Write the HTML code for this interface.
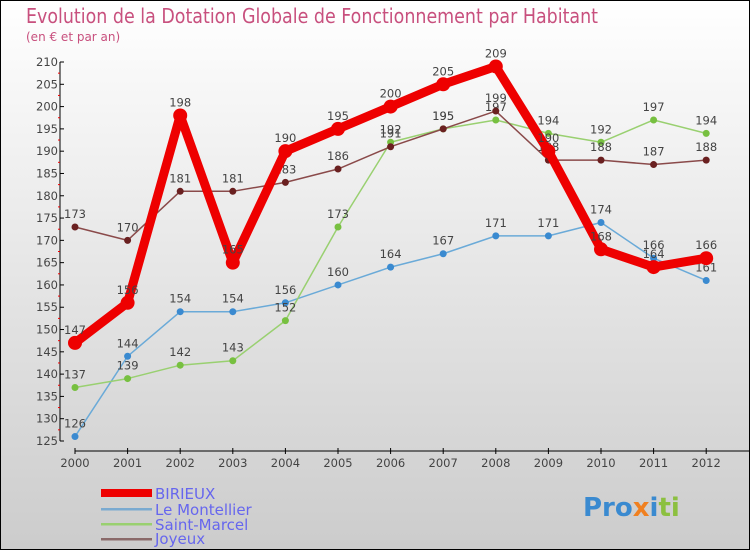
<!DOCTYPE html>
<html><head><meta charset="utf-8"><style>
html,body{margin:0;padding:0}
body{width:750px;height:550px;overflow:hidden;font-family:"DejaVu Sans","Liberation Sans",sans-serif}
#wrap{position:relative;width:748px;height:548px;border:1px solid #000;background:linear-gradient(#fff,#ccc)}
</style></head><body>
<div id="wrap">
<svg id="c" width="748" height="548">
<text x="25" y="22" font-size="20" fill="#c8507e" font-family="DejaVu Sans,sans-serif" textLength="572" lengthAdjust="spacingAndGlyphs">Evolution de la Dotation Globale de Fonctionnement par Habitant</text>
<text x="25" y="40" font-size="12" fill="#c8507e">(en € et par an)</text>
<g id="axes"></g><g id="series"></g>
<g>
<rect x="100" y="488" width="51" height="8" fill="#e00"/>
<text x="154" y="498" font-size="15" fill="#6666ee">BIRIEUX</text>
<rect x="100" y="507" width="51" height="2.5" fill="#7aaad0"/>
<text x="154" y="514" font-size="15" fill="#6666ee">Le Montellier</text>
<rect x="100" y="522" width="51" height="2.5" fill="#99d070"/>
<text x="154" y="529" font-size="15" fill="#6666ee">Saint-Marcel</text>
<rect x="100" y="537" width="51" height="2.5" fill="#8a6a6a"/>
<text x="154" y="543" font-size="15" fill="#6666ee">Joyeux</text>
</g>
<text x="582" y="515" font-size="26" font-weight="bold" fill="#3a8ad0">Pro<tspan fill="#f08020">x</tspan><tspan fill="#3a8ad0">i</tspan><tspan fill="#8cc040">ti</tspan></text>
</svg>
</div>
<script>
const years=[2000,2001,2002,2003,2004,2005,2006,2007,2008,2009,2010,2011,2012];
const birieux=[147,156,198,165,190,195,200,205,209,190,168,164,166];
const montellier=[126,144,154,154,156,160,164,167,171,171,174,166,161];
const saintMarcel=[137,139,142,143,152,173,192,195,197,194,192,197,194];
const joyeux=[173,170,181,181,183,186,191,195,199,188,188,187,188];
const yTicks=[125,130,135,140,145,150,155,160,165,170,175,180,185,190,195,200,205,210];
const NS="http://www.w3.org/2000/svg";
const x=i=>74+i*52.6;
const y=v=>440-(v-125)*(379/85);
function mk(tag,attrs,parent){const e=document.createElementNS(NS,tag);for(const k in attrs)e.setAttribute(k,attrs[k]);parent.appendChild(e);return e;}
const ax=document.getElementById('axes');
let l=mk('line',{x1:59,y1:y(210),x2:59,y2:y(125),stroke:'#000'},ax);


l=mk('line',{x1:74,y1:450,x2:748,y2:450,stroke:'#000'},ax);


yTicks.forEach(v=>{
 mk('line',{x1:59,y1:y(v),x2:63,y2:y(v),stroke:'#000'},ax);
 if(v<210) mk('line',{x1:57,y1:y(v+2.5),x2:59,y2:y(v+2.5),stroke:'#e00'},ax);
 const t=mk('text',{x:57,y:y(v)+4,'font-size':11.5,fill:'#444','text-anchor':'end'},ax);
 t.textContent=v;
 
 
});
years.forEach((yr,i)=>{
 mk('line',{x1:x(i),y1:447,x2:x(i),y2:453,stroke:'#000'},ax);
 const t=mk('text',{x:x(i),y:466,'font-size':11.5,fill:'#444','text-anchor':'middle'},ax);
 t.textContent=yr;
 
 
});
const sg=document.getElementById('series');
function series(data,color,w,r,name,dot){
 const g=mk('g',{},sg);
 
 
 const p=mk('polyline',{points:data.map((v,i)=>x(i)+','+y(v)).join(' '),fill:'none',stroke:color,'stroke-width':w,'stroke-linejoin':'round'},g);
 
 
 data.forEach((v,i)=>{
  const c=mk('circle',{cx:x(i),cy:y(v),r:r,fill:dot,stroke:'none'},g);
  
  
  const t=mk('text',{x:x(i),y:y(v)-9,'font-size':11.5,fill:'#444','text-anchor':'middle'},g);
  t.textContent=v;
  
  
 });
}
series(montellier,'#6aaad8',1.5,3.5,'montellier','#3a8ad0');
series(saintMarcel,'#99d070',1.5,3.5,'saint-marcel','#77c040');
series(joyeux,'#8a4a4a',1.5,3.5,'joyeux','#6a2020');
series(birieux,'#ee0000',9,7,'birieux','#ee0000');
</script>
</body></html>
